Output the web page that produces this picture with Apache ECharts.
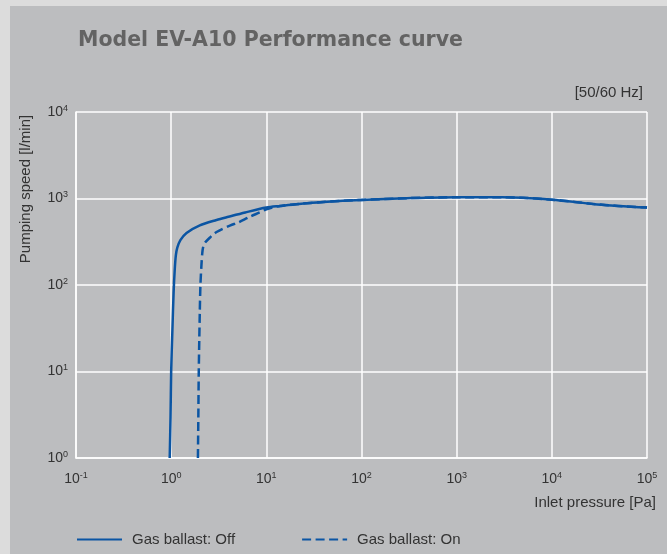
<!DOCTYPE html>
<html><head><meta charset="utf-8">
<script src="https://cdn.jsdelivr.net/npm/echarts@6/dist/echarts.min.js"></script>
<style>html,body{margin:0;padding:0;background:#dcdcdc}#c{width:667px;height:554px}</style>
</head><body><div id="c"></div>
<script>
const chartTitle = 'Model EV-A10 Performance curve';
const seriesNames = ['Gas ballast: Off', 'Gas ballast: On'];
const xExponents = [-1, 0, 1, 2, 3, 4, 5];
const yExponents = [0, 1, 2, 3, 4];
const offX = [0.965, 0.985, 1.0, 1.03, 1.06, 1.09, 1.12, 1.16, 1.25, 1.45, 2.0, 3.0, 4.0, 6.0, 10, 14, 22, 40, 100, 300, 1000, 3000, 10000, 30000, 100000];
const offY = [1, 3, 10, 30, 80, 150, 220, 270, 330, 400, 490, 565, 615, 690, 785, 820, 865, 912, 964, 1007, 1035, 1035, 970, 855, 785];
const onX = [1.91, 1.93, 1.95, 2.0, 2.03, 2.08, 2.12, 2.16, 2.25, 2.6, 3.0, 4.2, 5.0, 6.7, 8.5, 10, 12, 14, 22, 40, 100, 300, 1000, 3000, 10000, 30000, 100000];
const onY = [1, 3, 10, 50, 100, 170, 230, 270, 305, 360, 410, 490, 525, 615, 690, 750, 795, 820, 865, 912, 964, 1007, 1035, 1035, 970, 855, 785];

const FONT = '"Liberation Sans", Arial, Helvetica, sans-serif';
const BLUE = '#0b55a3';
const TXT = '#333333';

function expLabel(list) {
  return function (v) {
    const e = Math.round(Math.log10(v));
    if (list.indexOf(e) < 0) return '';
    return '{b|10}{s|' + e + '}';
  };
}
const rich = {
  b: { fontSize: 14, lineHeight: 16, color: TXT, fontFamily: FONT },
  s: { fontSize: 9, lineHeight: 10, color: TXT, fontFamily: FONT, verticalAlign: 'top' }
};
const white = { color: '#ffffff', width: 1.5 };

const chart = echarts.init(document.getElementById('c'));
chart.setOption({
  backgroundColor: '#bcbdbf',
  animation: false,
  grid: { left: 76, right: 20, top: 112, bottom: 96, containLabel: false },
  graphic: [
    { type: 'rect', shape: { x: 0, y: 0, width: 10, height: 554 }, style: { fill: '#dcdcdc' } },
    { type: 'rect', shape: { x: 0, y: 0, width: 667, height: 6 }, style: { fill: '#dcdcdc' } },
    { type: 'text', x: 78, y: 41, style: { text: chartTitle, fill: '#636363', font: 'bold 20.5px "DejaVu Sans"', align: 'left', verticalAlign: 'middle', textAlign: 'left', textVerticalAlign: 'middle' } },
    { type: 'text', x: 643, y: 93, style: { text: '[50/60 Hz]', fill: TXT, font: '15px ' + FONT, align: 'right', verticalAlign: 'middle', textAlign: 'right', textVerticalAlign: 'middle' } },
    { type: 'text', x: 656, y: 503, style: { text: 'Inlet pressure [Pa]', fill: TXT, font: '15px ' + FONT, align: 'right', verticalAlign: 'middle', textAlign: 'right', textVerticalAlign: 'middle' } },
    { type: 'text', x: 26, y: 189, rotation: Math.PI / 2, style: { text: 'Pumping speed [l/min]', fill: TXT, font: '15px ' + FONT, align: 'center', verticalAlign: 'middle', textAlign: 'center', textVerticalAlign: 'middle' } }
  ],
  legend: {
    data: seriesNames,
    left: 76, top: 532, padding: 0,
    itemWidth: 45, itemHeight: 14, itemGap: 66,
    itemStyle: { opacity: 0 },
    textStyle: { fontSize: 15, color: TXT, fontFamily: FONT, padding: [0, 0, 0, 5] }
  },
  xAxis: {
    type: 'log', logBase: 10, min: 0.1, max: 100000, splitNumber: 6,
    axisLine: { show: true, lineStyle: white },
    axisTick: { show: false },
    splitLine: { show: true, lineStyle: white },
    axisLabel: { margin: 13, formatter: expLabel(xExponents), rich: rich }
  },
  yAxis: {
    type: 'log', logBase: 10, min: 1, max: 10000, splitNumber: 4,
    axisLine: { show: true, lineStyle: white },
    axisTick: { show: false },
    splitLine: { show: true, lineStyle: white },
    axisLabel: { margin: 8, formatter: expLabel(yExponents), rich: rich }
  },
  series: [
    {
      name: seriesNames[1], type: 'line', symbol: 'none', showSymbol: false, smooth: 0.3, z: 2,
      data: onX.map((x, i) => [x, onY[i]]),
      itemStyle: { color: BLUE },
      lineStyle: { color: BLUE, width: 2.5, type: [9, 4.5] }
    },
    {
      name: seriesNames[0], type: 'line', symbol: 'none', showSymbol: false, smooth: 0.3, z: 3,
      data: offX.map((x, i) => [x, offY[i]]),
      itemStyle: { color: BLUE },
      lineStyle: { color: BLUE, width: 2.5 }
    }
  ]
});
</script></body></html>
